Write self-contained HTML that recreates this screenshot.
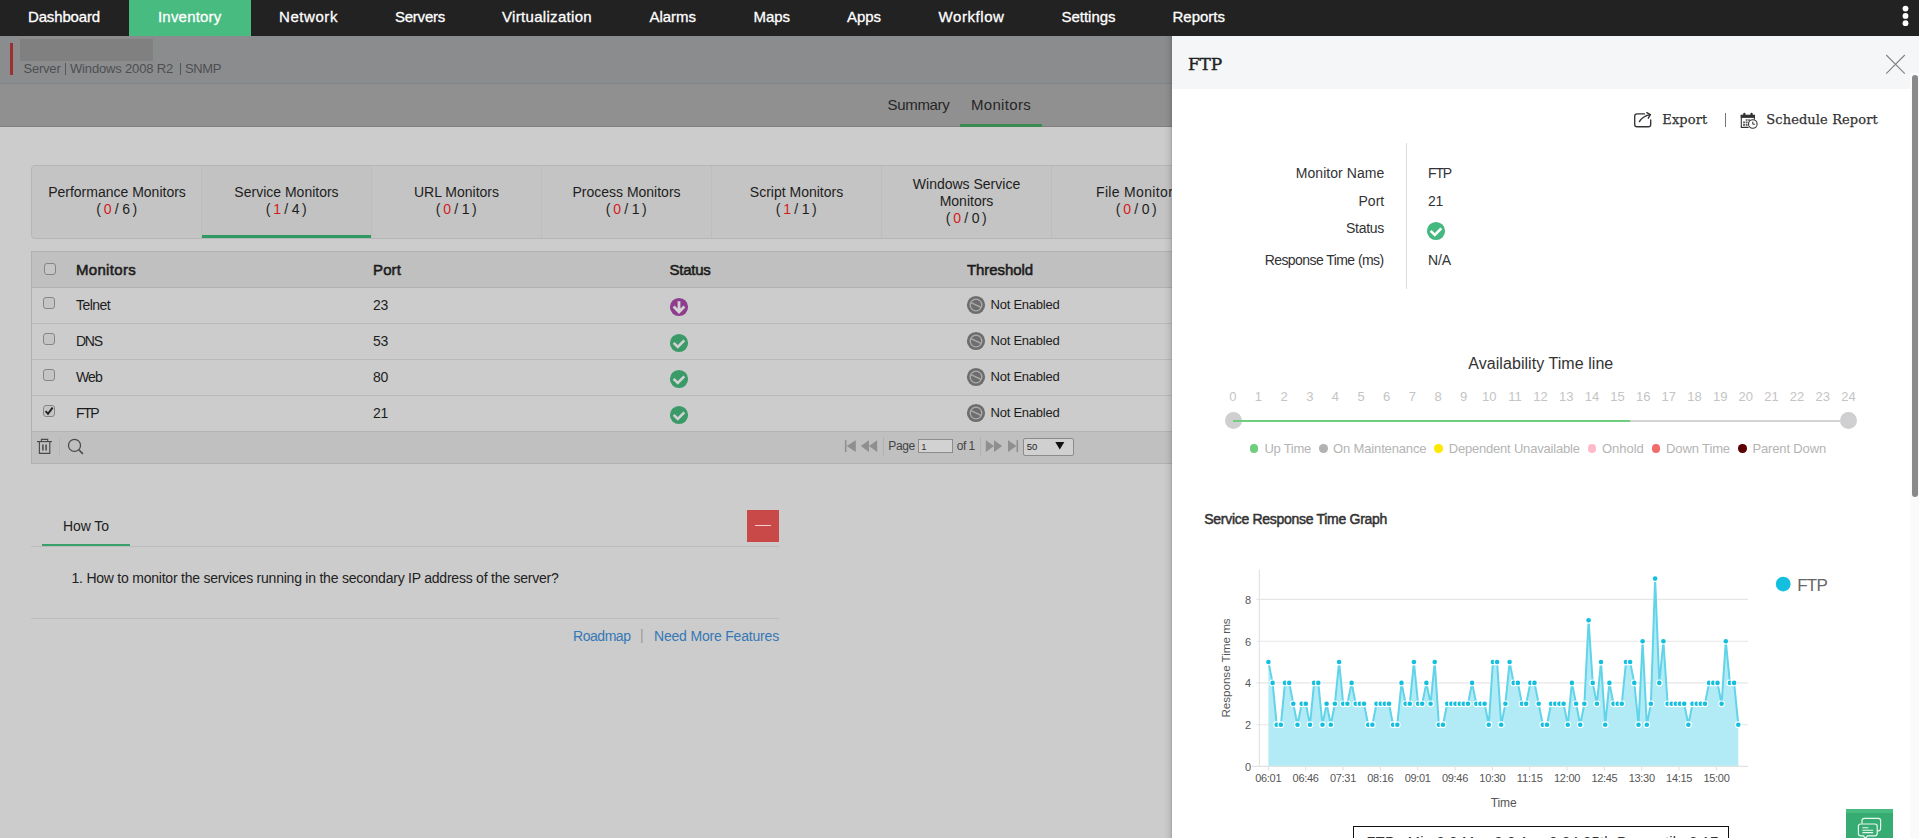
<!DOCTYPE html>
<html lang="en"><head><meta charset="utf-8"><title>OpManager - FTP Service Monitor</title>
<style>
html,body{margin:0;padding:0;}
html{overflow:hidden;width:1919px;height:838px;}
body{width:1919px;height:838px;overflow:hidden;position:relative;background:#cccccc;font-family:'Liberation Sans', sans-serif;}
.a{position:absolute;box-sizing:border-box;}
.t{position:absolute;white-space:pre;}
svg{position:absolute;overflow:visible;}

.cb{position:absolute;box-sizing:border-box;width:12px;height:12px;border:1px solid #858585;border-radius:3px;background:#c5c5c5;}

</style></head><body>
<div class="a" style="left:0px;top:36px;width:1172px;height:48px;background:#8b8c8e;"></div>
<div class="a" style="left:0px;top:83px;width:1172px;height:1px;background:#838485;"></div>
<div class="a" style="left:10px;top:43px;width:3px;height:32px;background:#9c2f30;"></div>
<div class="a" style="left:20px;top:39px;width:133px;height:22px;background:#808080;"></div>
<span class="t" style="top:61px;font-size:13px;line-height:15px;color:#4e4f51;letter-spacing:-0.216px;left:23.50px;">Server</span>
<div class="a" style="left:65px;top:63px;width:1px;height:12px;background:#555658;"></div>
<span class="t" style="top:61px;font-size:13px;line-height:15px;color:#4e4f51;letter-spacing:-0.167px;left:70.00px;">Windows 2008 R2</span>
<div class="a" style="left:180px;top:63px;width:1px;height:12px;background:#555658;"></div>
<span class="t" style="top:61px;font-size:13px;line-height:15px;color:#4e4f51;letter-spacing:-0.391px;left:185.00px;">SNMP</span>
<div class="a" style="left:0px;top:84px;width:1172px;height:43px;background:#909090;border-bottom:1px solid #808080;"></div>
<span class="t" style="top:96px;font-size:15px;line-height:17px;color:#262626;letter-spacing:-0.312px;left:887.50px;">Summary</span>
<span class="t" style="top:96px;font-size:15px;line-height:17px;color:#262626;letter-spacing:0.309px;left:971.00px;">Monitors</span>
<div class="a" style="left:960px;top:124px;width:82px;height:3px;background:#3b8a4f;"></div>
<div class="a" style="left:31px;top:165px;width:1150px;height:74px;background:#c4c4c4;border:1px solid #b6b6b6;border-radius:4px 0 0 4px;"></div>
<div class="a" style="left:202px;top:166px;width:169px;height:72px;background:#c2c2c2;"></div>
<div class="a" style="left:202px;top:235px;width:169px;height:3px;background:#2f9962;"></div>
<div class="a" style="left:201px;top:166px;width:1px;height:72px;background:#bdbdbd;"></div>
<div class="a" style="left:371px;top:166px;width:1px;height:72px;background:#bdbdbd;"></div>
<div class="a" style="left:541px;top:166px;width:1px;height:72px;background:#bdbdbd;"></div>
<div class="a" style="left:711px;top:166px;width:1px;height:72px;background:#bdbdbd;"></div>
<div class="a" style="left:881px;top:166px;width:1px;height:72px;background:#bdbdbd;"></div>
<div class="a" style="left:1051px;top:166px;width:1px;height:72px;background:#bdbdbd;"></div>
<span class="t" style="top:184px;font-size:14px;line-height:16px;color:#1d1d1d;left:117.00px;transform:translateX(-50%);margin-left:0.00px;">Performance Monitors</span>
<span class="t" style="top:201px;font-size:14px;line-height:16px;color:#1d1d1d;left:96.20px;">(</span>
<span class="t" style="top:201px;font-size:14px;line-height:16px;color:#d31b1b;left:103.70px;">0</span>
<span class="t" style="top:201px;font-size:14px;line-height:16px;color:#1d1d1d;left:114.80px;">/</span>
<span class="t" style="top:201px;font-size:14px;line-height:16px;color:#1d1d1d;left:122.30px;">6</span>
<span class="t" style="top:201px;font-size:14px;line-height:16px;color:#1d1d1d;left:132.60px;">)</span>
<span class="t" style="top:184px;font-size:14px;line-height:16px;color:#1d1d1d;left:286.50px;transform:translateX(-50%);margin-left:0.00px;">Service Monitors</span>
<span class="t" style="top:201px;font-size:14px;line-height:16px;color:#1d1d1d;left:265.70px;">(</span>
<span class="t" style="top:201px;font-size:14px;line-height:16px;color:#d31b1b;left:273.20px;">1</span>
<span class="t" style="top:201px;font-size:14px;line-height:16px;color:#1d1d1d;left:284.30px;">/</span>
<span class="t" style="top:201px;font-size:14px;line-height:16px;color:#1d1d1d;left:291.80px;">4</span>
<span class="t" style="top:201px;font-size:14px;line-height:16px;color:#1d1d1d;left:302.10px;">)</span>
<span class="t" style="top:184px;font-size:14px;line-height:16px;color:#1d1d1d;left:456.50px;transform:translateX(-50%);margin-left:0.00px;">URL Monitors</span>
<span class="t" style="top:201px;font-size:14px;line-height:16px;color:#1d1d1d;left:435.70px;">(</span>
<span class="t" style="top:201px;font-size:14px;line-height:16px;color:#d31b1b;left:443.20px;">0</span>
<span class="t" style="top:201px;font-size:14px;line-height:16px;color:#1d1d1d;left:454.30px;">/</span>
<span class="t" style="top:201px;font-size:14px;line-height:16px;color:#1d1d1d;left:461.80px;">1</span>
<span class="t" style="top:201px;font-size:14px;line-height:16px;color:#1d1d1d;left:472.10px;">)</span>
<span class="t" style="top:184px;font-size:14px;line-height:16px;color:#1d1d1d;left:626.50px;transform:translateX(-50%);margin-left:0.00px;">Process Monitors</span>
<span class="t" style="top:201px;font-size:14px;line-height:16px;color:#1d1d1d;left:605.70px;">(</span>
<span class="t" style="top:201px;font-size:14px;line-height:16px;color:#d31b1b;left:613.20px;">0</span>
<span class="t" style="top:201px;font-size:14px;line-height:16px;color:#1d1d1d;left:624.30px;">/</span>
<span class="t" style="top:201px;font-size:14px;line-height:16px;color:#1d1d1d;left:631.80px;">1</span>
<span class="t" style="top:201px;font-size:14px;line-height:16px;color:#1d1d1d;left:642.10px;">)</span>
<span class="t" style="top:184px;font-size:14px;line-height:16px;color:#1d1d1d;left:796.50px;transform:translateX(-50%);margin-left:0.00px;">Script Monitors</span>
<span class="t" style="top:201px;font-size:14px;line-height:16px;color:#1d1d1d;left:775.70px;">(</span>
<span class="t" style="top:201px;font-size:14px;line-height:16px;color:#d31b1b;left:783.20px;">1</span>
<span class="t" style="top:201px;font-size:14px;line-height:16px;color:#1d1d1d;left:794.30px;">/</span>
<span class="t" style="top:201px;font-size:14px;line-height:16px;color:#1d1d1d;left:801.80px;">1</span>
<span class="t" style="top:201px;font-size:14px;line-height:16px;color:#1d1d1d;left:812.10px;">)</span>
<span class="t" style="top:176px;font-size:14px;line-height:16px;color:#1d1d1d;left:966.50px;transform:translateX(-50%);margin-left:0.00px;">Windows Service</span>
<span class="t" style="top:193px;font-size:14px;line-height:16px;color:#1d1d1d;left:966.50px;transform:translateX(-50%);margin-left:0.00px;">Monitors</span>
<span class="t" style="top:210px;font-size:14px;line-height:16px;color:#1d1d1d;left:945.70px;">(</span>
<span class="t" style="top:210px;font-size:14px;line-height:16px;color:#d31b1b;left:953.20px;">0</span>
<span class="t" style="top:210px;font-size:14px;line-height:16px;color:#1d1d1d;left:964.30px;">/</span>
<span class="t" style="top:210px;font-size:14px;line-height:16px;color:#1d1d1d;left:971.80px;">0</span>
<span class="t" style="top:210px;font-size:14px;line-height:16px;color:#1d1d1d;left:982.10px;">)</span>
<span class="t" style="top:184px;font-size:14px;line-height:16px;color:#1d1d1d;letter-spacing:0.335px;left:1096.00px;">File Monitors</span>
<span class="t" style="top:201px;font-size:14px;line-height:16px;color:#1d1d1d;left:1115.70px;">(</span>
<span class="t" style="top:201px;font-size:14px;line-height:16px;color:#d31b1b;left:1123.20px;">0</span>
<span class="t" style="top:201px;font-size:14px;line-height:16px;color:#1d1d1d;left:1134.30px;">/</span>
<span class="t" style="top:201px;font-size:14px;line-height:16px;color:#1d1d1d;left:1141.80px;">0</span>
<span class="t" style="top:201px;font-size:14px;line-height:16px;color:#1d1d1d;left:1152.10px;">)</span>
<div class="a" style="left:31px;top:251px;width:1150px;height:213px;background:#cccccc;border:1px solid #b0b0b0;"></div>
<div class="a" style="left:32px;top:252px;width:1148px;height:36px;background:#c0c0c0;border-bottom:1px solid #b0b0b0;"></div>
<div class="a" style="left:32px;top:323px;width:1148px;height:1px;background:#b9b9b9;"></div>
<div class="a" style="left:32px;top:359px;width:1148px;height:1px;background:#b9b9b9;"></div>
<div class="a" style="left:32px;top:395px;width:1148px;height:1px;background:#b9b9b9;"></div>
<div class="a" style="left:32px;top:431px;width:1148px;height:32px;background:#c0c0c0;border-top:1px solid #b4b4b4;"></div>
<span class="t" style="top:261px;font-size:15px;line-height:17px;color:#1c1c1c;letter-spacing:0.309px;left:76.00px;-webkit-text-stroke:0.55px #1c1c1c;">Monitors</span>
<span class="t" style="top:261px;font-size:15px;line-height:17px;color:#1c1c1c;letter-spacing:0.121px;left:373.00px;-webkit-text-stroke:0.55px #1c1c1c;">Port</span>
<span class="t" style="top:261px;font-size:15px;line-height:17px;color:#1c1c1c;letter-spacing:-0.255px;left:669.50px;-webkit-text-stroke:0.55px #1c1c1c;">Status</span>
<span class="t" style="top:261px;font-size:15px;line-height:17px;color:#1c1c1c;letter-spacing:-0.078px;left:967.00px;-webkit-text-stroke:0.55px #1c1c1c;">Threshold</span>
<div class="cb" style="left:44px;top:263px"></div>
<span class="t" style="top:297px;font-size:14px;line-height:16px;color:#1d1d1d;letter-spacing:-0.560px;left:76.00px;">Telnet</span>
<span class="t" style="top:297px;font-size:14px;line-height:16px;color:#1d1d1d;letter-spacing:-0.389px;left:373.00px;">23</span>
<span class="t" style="top:297px;font-size:13px;line-height:15px;color:#1d1d1d;letter-spacing:-0.233px;left:990.50px;">Not Enabled</span>
<div class="cb" style="left:43px;top:297px"></div>
<span class="t" style="top:333px;font-size:14px;line-height:16px;color:#1d1d1d;letter-spacing:-1.254px;left:76.00px;">DNS</span>
<span class="t" style="top:333px;font-size:14px;line-height:16px;color:#1d1d1d;letter-spacing:-0.389px;left:373.00px;">53</span>
<span class="t" style="top:333px;font-size:13px;line-height:15px;color:#1d1d1d;letter-spacing:-0.233px;left:990.50px;">Not Enabled</span>
<div class="cb" style="left:43px;top:333px"></div>
<span class="t" style="top:369px;font-size:14px;line-height:16px;color:#1d1d1d;letter-spacing:-0.849px;left:76.00px;">Web</span>
<span class="t" style="top:369px;font-size:14px;line-height:16px;color:#1d1d1d;letter-spacing:-0.389px;left:373.00px;">80</span>
<span class="t" style="top:369px;font-size:13px;line-height:15px;color:#1d1d1d;letter-spacing:-0.233px;left:990.50px;">Not Enabled</span>
<div class="cb" style="left:43px;top:369px"></div>
<span class="t" style="top:405px;font-size:14px;line-height:16px;color:#1d1d1d;letter-spacing:-1.384px;left:76.00px;">FTP</span>
<span class="t" style="top:405px;font-size:14px;line-height:16px;color:#1d1d1d;letter-spacing:-0.389px;left:373.00px;">21</span>
<span class="t" style="top:405px;font-size:13px;line-height:15px;color:#1d1d1d;letter-spacing:-0.233px;left:990.50px;">Not Enabled</span>
<div class="cb" style="left:43px;top:405px"></div>
<span class="t" style="top:518px;font-size:14px;line-height:16px;color:#222;letter-spacing:-0.073px;left:63.00px;">How To</span>
<div class="a" style="left:42px;top:544px;width:88px;height:2px;background:#3a9f6b;"></div>
<div class="a" style="left:31px;top:546px;width:748px;height:1px;background:#bcbcbc;"></div>
<div class="a" style="left:747px;top:510px;width:32px;height:32px;background:#c94848;"></div>
<div class="a" style="left:755px;top:525px;width:16px;height:1px;background:#f0d0d0;"></div>
<span class="t" style="top:570px;font-size:14px;line-height:16px;color:#222;letter-spacing:-0.229px;left:71.50px;">1. How to monitor the services running in the secondary IP address of the server?</span>
<div class="a" style="left:31px;top:618px;width:748px;height:1px;background:#bcbcbc;"></div>
<span class="t" style="top:628px;font-size:14px;line-height:16px;color:#3578b5;letter-spacing:-0.458px;left:573.00px;">Roadmap</span>
<span class="t" style="top:627px;font-size:14px;line-height:16px;color:#999;left:640.00px;">|</span>
<span class="t" style="top:628px;font-size:14px;line-height:16px;color:#3578b5;letter-spacing:-0.189px;left:654.00px;">Need More Features</span>
<div class="a" style="left:0px;top:0px;width:1919px;height:36px;background:#222222;"></div>
<div class="a" style="left:129px;top:0px;width:122px;height:36px;background:#48bb81;"></div>
<span class="t" style="top:8px;font-size:15px;line-height:17px;color:#ffffff;letter-spacing:-0.155px;left:28.00px;-webkit-text-stroke:0.3px #fff;">Dashboard</span>
<span class="t" style="top:8px;font-size:15px;line-height:17px;color:#ffffff;letter-spacing:0.200px;left:158.00px;-webkit-text-stroke:0.3px #fff;">Inventory</span>
<span class="t" style="top:8px;font-size:15px;line-height:17px;color:#ffffff;letter-spacing:0.569px;left:279.00px;-webkit-text-stroke:0.3px #fff;">Network</span>
<span class="t" style="top:8px;font-size:15px;line-height:17px;color:#ffffff;letter-spacing:-0.241px;left:395.00px;-webkit-text-stroke:0.3px #fff;">Servers</span>
<span class="t" style="top:8px;font-size:15px;line-height:17px;color:#ffffff;letter-spacing:0.314px;left:502.00px;-webkit-text-stroke:0.3px #fff;">Virtualization</span>
<span class="t" style="top:8px;font-size:15px;line-height:17px;color:#ffffff;letter-spacing:-0.029px;left:649.50px;-webkit-text-stroke:0.3px #fff;">Alarms</span>
<span class="t" style="top:8px;font-size:15px;line-height:17px;color:#ffffff;letter-spacing:-0.047px;left:753.50px;-webkit-text-stroke:0.3px #fff;">Maps</span>
<span class="t" style="top:8px;font-size:15px;line-height:17px;color:#ffffff;letter-spacing:-0.051px;left:847.00px;-webkit-text-stroke:0.3px #fff;">Apps</span>
<span class="t" style="top:8px;font-size:15px;line-height:17px;color:#ffffff;letter-spacing:0.574px;left:938.50px;-webkit-text-stroke:0.3px #fff;">Workflow</span>
<span class="t" style="top:8px;font-size:15px;line-height:17px;color:#ffffff;letter-spacing:-0.025px;left:1061.50px;-webkit-text-stroke:0.3px #fff;">Settings</span>
<span class="t" style="top:8px;font-size:15px;line-height:17px;color:#ffffff;letter-spacing:-0.004px;left:1172.50px;-webkit-text-stroke:0.3px #fff;">Reports</span>
<svg style="left:1900px;top:4px" width="12" height="24" viewBox="0 0 12 24"><circle cx="5.5" cy="4.6" r="2.9" fill="#fff"/><circle cx="5.5" cy="11.9" r="2.9" fill="#fff"/><circle cx="5.5" cy="19.2" r="2.9" fill="#fff"/></svg>
<div class="a" style="left:1163px;top:36px;width:9px;height:802px;background:linear-gradient(to right,rgba(0,0,0,0),rgba(0,0,0,0.025) 40%,rgba(0,0,0,0.08) 75%,rgba(0,0,0,0.175));"></div>
<div class="a" style="left:1172px;top:36px;width:747px;height:802px;background:#ffffff;"></div>
<div class="a" style="left:1172px;top:36px;width:747px;height:53px;background:#f5f6f8;"></div>
<span class="t" style="top:54px;font-size:17px;line-height:20px;color:#222;font-family:'DejaVu Serif', 'Liberation Serif', serif;letter-spacing:-0.193px;left:1188.00px;-webkit-text-stroke:0.4px #222;">FTP</span>
<svg style="left:669px;top:296.8px" width="20" height="20" viewBox="0 0 20 20"><circle cx="10" cy="10" r="9.1" fill="#8e3d8e"/><path d="M10 4.2 V13.5 M4.6 9.5 L10 14.9 L15.4 9.5" fill="none" stroke="#d2d2d2" stroke-width="2.8"/></svg>
<svg style="left:966px;top:295px" width="20" height="20" viewBox="0 0 20 20"><circle cx="10" cy="10" r="9.1" fill="#6d6d6d"/><circle cx="10" cy="10" r="5.8" fill="none" stroke="#adadad" stroke-width="1.3"/><path d="M5 7.6 L15 12.4" stroke="#adadad" stroke-width="1.3"/></svg>
<svg style="left:669px;top:332.8px" width="20" height="20" viewBox="0 0 20 20"><circle cx="10" cy="10" r="9.1" fill="#3a9a68"/><path d="M4.6 9.9 L8.8 14 L15.3 7.3" fill="none" stroke="#d2d2d2" stroke-width="2.6"/></svg>
<svg style="left:966px;top:331px" width="20" height="20" viewBox="0 0 20 20"><circle cx="10" cy="10" r="9.1" fill="#6d6d6d"/><circle cx="10" cy="10" r="5.8" fill="none" stroke="#adadad" stroke-width="1.3"/><path d="M5 7.6 L15 12.4" stroke="#adadad" stroke-width="1.3"/></svg>
<svg style="left:669px;top:368.8px" width="20" height="20" viewBox="0 0 20 20"><circle cx="10" cy="10" r="9.1" fill="#3a9a68"/><path d="M4.6 9.9 L8.8 14 L15.3 7.3" fill="none" stroke="#d2d2d2" stroke-width="2.6"/></svg>
<svg style="left:966px;top:367px" width="20" height="20" viewBox="0 0 20 20"><circle cx="10" cy="10" r="9.1" fill="#6d6d6d"/><circle cx="10" cy="10" r="5.8" fill="none" stroke="#adadad" stroke-width="1.3"/><path d="M5 7.6 L15 12.4" stroke="#adadad" stroke-width="1.3"/></svg>
<svg style="left:669px;top:404.8px" width="20" height="20" viewBox="0 0 20 20"><circle cx="10" cy="10" r="9.1" fill="#3a9a68"/><path d="M4.6 9.9 L8.8 14 L15.3 7.3" fill="none" stroke="#d2d2d2" stroke-width="2.6"/></svg>
<svg style="left:966px;top:403px" width="20" height="20" viewBox="0 0 20 20"><circle cx="10" cy="10" r="9.1" fill="#6d6d6d"/><circle cx="10" cy="10" r="5.8" fill="none" stroke="#adadad" stroke-width="1.3"/><path d="M5 7.6 L15 12.4" stroke="#adadad" stroke-width="1.3"/></svg>
<svg style="left:43px;top:405px" width="12" height="12" viewBox="0 0 12 12"><path d="M2.6 6.2 L5 8.8 L9.6 2.6" fill="none" stroke="#222" stroke-width="1.9"/></svg>
<svg style="left:34px;top:436px" width="22" height="20" viewBox="0 0 22 20"><g fill="none" stroke="#4a4a4a" stroke-width="1.15"><path d="M3 5.6 H18"/><path d="M7.4 5.4 V3.4 H13.7 V5.4"/><path d="M5.4 5.8 V17.4 H15.8 V5.8"/><path d="M8.9 8.4 V14.6 M12.1 8.4 V14.6" stroke-width="1.5"/></g></svg>
<div class="a" style="left:59px;top:437px;width:1px;height:19px;background:#b6b6b6;"></div>
<svg style="left:64px;top:436px" width="22" height="20" viewBox="0 0 22 20"><g fill="none" stroke="#4a4a4a" stroke-width="1.25"><circle cx="10.5" cy="9.4" r="6.0"/><path d="M14.8 13.8 L18.9 17.9" stroke-width="1.6"/></g></svg>
<svg style="left:844px;top:439px" width="14" height="14" viewBox="0 0 14 14"><rect x="0.9" y="1.2" width="1.6" height="11.8" fill="#8f8f8f"/><path d="M2.7 7.1 L11.8 1.2 V13 Z" fill="#8f8f8f"/></svg>
<svg style="left:860px;top:439px" width="18" height="14" viewBox="0 0 18 14"><path d="M0.8 7.1 L9 1.2 V13 Z M9 7.1 L17.2 1.2 V13 Z" fill="#8f8f8f"/></svg>
<div class="a" style="left:882.5px;top:437px;width:1px;height:19px;background:#b2b2b2;"></div>
<span class="t" style="top:439px;font-size:12px;line-height:14px;color:#444;letter-spacing:-0.383px;left:888.30px;">Page</span>
<div class="a" style="left:918px;top:439px;width:35px;height:14px;background:#d2d2d2;border:1px solid #8c8c8c;"></div>
<span class="t" style="top:441px;font-size:9.5px;line-height:11px;color:#333;left:921.30px;">1</span>
<span class="t" style="top:439px;font-size:12px;line-height:14px;color:#444;letter-spacing:-0.554px;left:956.80px;">of 1</span>
<div class="a" style="left:979.5px;top:437px;width:1px;height:19px;background:#b2b2b2;"></div>
<svg style="left:985px;top:439px" width="18" height="14" viewBox="0 0 18 14"><path d="M0.8 1.2 L9 7.1 L0.8 13 Z M9 1.2 L17.2 7.1 L9 13 Z" fill="#8f8f8f"/></svg>
<svg style="left:1007px;top:439px" width="14" height="14" viewBox="0 0 14 14"><path d="M1 1.2 L9.5 7.1 L1 13 Z" fill="#8f8f8f"/><rect x="9.5" y="1.2" width="1.6" height="11.8" fill="#8f8f8f"/></svg>
<div class="a" style="left:1022.5px;top:437.5px;width:51px;height:18px;background:#d0d0d0;border:1px solid #8c8c8c;border-radius:2px;"></div>
<span class="t" style="top:441px;font-size:9.5px;line-height:11px;color:#222;left:1026.80px;">50</span>
<svg style="left:1055px;top:441px" width="10" height="9" viewBox="0 0 10 9"><path d="M0.3 1 H9.3 L4.8 8.6 Z" fill="#111"/></svg>
<div class="a" style="left:1910px;top:73px;width:9px;height:765px;background:#fafafa;"></div>
<div class="a" style="left:1912px;top:75px;width:6px;height:422px;background:#898989;border-radius:3px;"></div>
<svg style="left:1885px;top:54px" width="21" height="21" viewBox="0 0 21 21"><path d="M1.2 1 L19.8 19.6 M19.8 1 L1.2 19.6" stroke="#808080" stroke-width="1.1" fill="none"/></svg>
<svg style="left:1632px;top:110px" width="22" height="20" viewBox="0 0 22 20"><g fill="none" stroke="#333" stroke-width="1.35" stroke-linecap="round" stroke-linejoin="round"><path d="M12.5 3.9 H5 Q2.7 3.9 2.7 6.2 V14.4 Q2.7 16.7 5 16.7 H16.4 Q18.7 16.7 18.7 14.4 V9.8"/><path d="M7.4 11.6 Q10.5 6.2 18 4.6"/><path d="M14.8 2.6 L18.4 4.6 L16.3 8.2"/></g></svg>
<span class="t" style="top:112px;font-size:13px;line-height:15px;color:#333;font-family:'DejaVu Serif', 'Liberation Serif', serif;letter-spacing:0.096px;left:1662.30px;-webkit-text-stroke:0.25px #333;">Export</span>
<div class="a" style="left:1725px;top:113px;width:1px;height:14px;background:#777;"></div>
<svg style="left:1739px;top:111px" width="22" height="20" viewBox="0 0 22 20"><g fill="none" stroke="#333" stroke-width="1.1"><path d="M2.3 4 V16.4 H9.6"/><path d="M15.4 4 V8.6"/></g>
<rect x="1.75" y="3.7" width="14.2" height="3.2" fill="#333"/>
<rect x="4.2" y="1.7" width="2.3" height="3" rx="1.1" fill="#333"/><rect x="11.4" y="1.7" width="2.3" height="3" rx="1.1" fill="#333"/>
<g fill="#555"><rect x="4.1" y="10.5" width="1.8" height="1.8"/><rect x="6.7" y="10.5" width="1.8" height="1.8"/><rect x="4.1" y="13" width="1.8" height="1.8"/><rect x="6.7" y="13" width="1.8" height="1.8"/><rect x="6.7" y="8.2" width="1.8" height="1.6"/><rect x="9.2" y="8.2" width="1.6" height="1.6"/></g>
<circle cx="13.8" cy="13" r="4.3" fill="#fff" stroke="#333" stroke-width="1.1"/><path d="M13.8 10.6 V13.2 H15.9" fill="none" stroke="#333" stroke-width="1"/></svg>
<span class="t" style="top:112px;font-size:13px;line-height:15px;color:#333;font-family:'DejaVu Serif', 'Liberation Serif', serif;letter-spacing:0.100px;left:1766.30px;-webkit-text-stroke:0.25px #333;">Schedule Report</span>
<div class="a" style="left:1406px;top:143px;width:1px;height:146px;background:#dcdcdc;"></div>
<span class="t" style="top:165px;font-size:14px;line-height:16px;color:#333;letter-spacing:0.040px;right:534.76px;">Monitor Name</span>
<span class="t" style="top:193px;font-size:14px;line-height:16px;color:#333;letter-spacing:0.003px;right:534.80px;">Port</span>
<span class="t" style="top:220px;font-size:14px;line-height:16px;color:#333;letter-spacing:-0.317px;right:535.12px;">Status</span>
<span class="t" style="top:252px;font-size:14px;line-height:16px;color:#333;letter-spacing:-0.564px;right:535.36px;">Response Time (ms)</span>
<span class="t" style="top:165px;font-size:14px;line-height:16px;color:#333;letter-spacing:-1.151px;left:1428.00px;">FTP</span>
<span class="t" style="top:193px;font-size:14px;line-height:16px;color:#333;letter-spacing:-0.389px;left:1428.00px;">21</span>
<span class="t" style="top:252px;font-size:14px;line-height:16px;color:#333;letter-spacing:-0.115px;left:1428.00px;">N/A</span>
<svg style="left:1426.3px;top:220.7px" width="20" height="20" viewBox="0 0 20 20"><circle cx="10" cy="10" r="9.1" fill="#44b87f"/><path d="M4.6 9.9 L8.8 14 L15.3 7.3" fill="none" stroke="#ffffff" stroke-width="2.6"/></svg>
<span class="t" style="top:355px;font-size:16px;line-height:17px;color:#333;letter-spacing:0.056px;left:1540.80px;transform:translateX(-50%);margin-left:0.03px;">Availability Time line</span>
<span class="t" style="top:389px;font-size:13px;line-height:15px;color:#c4c4c4;left:1232.80px;transform:translateX(-50%);margin-left:0.00px;">0</span>
<span class="t" style="top:389px;font-size:13px;line-height:15px;color:#c4c4c4;left:1258.45px;transform:translateX(-50%);margin-left:0.00px;">1</span>
<span class="t" style="top:389px;font-size:13px;line-height:15px;color:#c4c4c4;left:1284.10px;transform:translateX(-50%);margin-left:0.00px;">2</span>
<span class="t" style="top:389px;font-size:13px;line-height:15px;color:#c4c4c4;left:1309.75px;transform:translateX(-50%);margin-left:0.00px;">3</span>
<span class="t" style="top:389px;font-size:13px;line-height:15px;color:#c4c4c4;left:1335.40px;transform:translateX(-50%);margin-left:0.00px;">4</span>
<span class="t" style="top:389px;font-size:13px;line-height:15px;color:#c4c4c4;left:1361.05px;transform:translateX(-50%);margin-left:0.00px;">5</span>
<span class="t" style="top:389px;font-size:13px;line-height:15px;color:#c4c4c4;left:1386.70px;transform:translateX(-50%);margin-left:0.00px;">6</span>
<span class="t" style="top:389px;font-size:13px;line-height:15px;color:#c4c4c4;left:1412.35px;transform:translateX(-50%);margin-left:0.00px;">7</span>
<span class="t" style="top:389px;font-size:13px;line-height:15px;color:#c4c4c4;left:1438.00px;transform:translateX(-50%);margin-left:0.00px;">8</span>
<span class="t" style="top:389px;font-size:13px;line-height:15px;color:#c4c4c4;left:1463.65px;transform:translateX(-50%);margin-left:0.00px;">9</span>
<span class="t" style="top:389px;font-size:13px;line-height:15px;color:#c4c4c4;left:1489.30px;transform:translateX(-50%);margin-left:0.00px;">10</span>
<span class="t" style="top:389px;font-size:13px;line-height:15px;color:#c4c4c4;left:1514.95px;transform:translateX(-50%);margin-left:0.00px;">11</span>
<span class="t" style="top:389px;font-size:13px;line-height:15px;color:#c4c4c4;left:1540.60px;transform:translateX(-50%);margin-left:0.00px;">12</span>
<span class="t" style="top:389px;font-size:13px;line-height:15px;color:#c4c4c4;left:1566.25px;transform:translateX(-50%);margin-left:0.00px;">13</span>
<span class="t" style="top:389px;font-size:13px;line-height:15px;color:#c4c4c4;left:1591.90px;transform:translateX(-50%);margin-left:0.00px;">14</span>
<span class="t" style="top:389px;font-size:13px;line-height:15px;color:#c4c4c4;left:1617.55px;transform:translateX(-50%);margin-left:0.00px;">15</span>
<span class="t" style="top:389px;font-size:13px;line-height:15px;color:#c4c4c4;left:1643.20px;transform:translateX(-50%);margin-left:0.00px;">16</span>
<span class="t" style="top:389px;font-size:13px;line-height:15px;color:#c4c4c4;left:1668.85px;transform:translateX(-50%);margin-left:0.00px;">17</span>
<span class="t" style="top:389px;font-size:13px;line-height:15px;color:#c4c4c4;left:1694.50px;transform:translateX(-50%);margin-left:0.00px;">18</span>
<span class="t" style="top:389px;font-size:13px;line-height:15px;color:#c4c4c4;left:1720.15px;transform:translateX(-50%);margin-left:0.00px;">19</span>
<span class="t" style="top:389px;font-size:13px;line-height:15px;color:#c4c4c4;left:1745.80px;transform:translateX(-50%);margin-left:0.00px;">20</span>
<span class="t" style="top:389px;font-size:13px;line-height:15px;color:#c4c4c4;left:1771.45px;transform:translateX(-50%);margin-left:0.00px;">21</span>
<span class="t" style="top:389px;font-size:13px;line-height:15px;color:#c4c4c4;left:1797.10px;transform:translateX(-50%);margin-left:0.00px;">22</span>
<span class="t" style="top:389px;font-size:13px;line-height:15px;color:#c4c4c4;left:1822.75px;transform:translateX(-50%);margin-left:0.00px;">23</span>
<span class="t" style="top:389px;font-size:13px;line-height:15px;color:#c4c4c4;left:1848.40px;transform:translateX(-50%);margin-left:0.00px;">24</span>
<div class="a" style="left:1224.6px;top:412.2px;width:17px;height:17px;background:#cfcfd1;border-radius:50%;"></div>
<div class="a" style="left:1839.9px;top:412.2px;width:17px;height:17px;background:#cfcfd1;border-radius:50%;"></div>
<div class="a" style="left:1232.8px;top:419.7px;width:608px;height:2px;background:#d4d4d4;"></div>
<div class="a" style="left:1232.8px;top:419.7px;width:397px;height:2px;background:#6fce7e;"></div>
<div class="a" style="left:1250.1px;top:444.2px;width:8.4px;height:8.4px;background:#6fce7e;border-radius:50%;"></div>
<span class="t" style="top:441px;font-size:13px;line-height:15px;color:#b4b4b4;letter-spacing:-0.272px;left:1264.50px;">Up Time</span>
<div class="a" style="left:1319.2px;top:444.2px;width:8.4px;height:8.4px;background:#b2b2b2;border-radius:50%;"></div>
<span class="t" style="top:441px;font-size:13px;line-height:15px;color:#b4b4b4;letter-spacing:-0.143px;left:1333.00px;">On Maintenance</span>
<div class="a" style="left:1434.3px;top:444.2px;width:8.4px;height:8.4px;background:#ffe800;border-radius:50%;"></div>
<span class="t" style="top:441px;font-size:13px;line-height:15px;color:#b4b4b4;letter-spacing:-0.198px;left:1448.70px;">Dependent Unavailable</span>
<div class="a" style="left:1587.8px;top:444.2px;width:8.4px;height:8.4px;background:#ffb9ca;border-radius:50%;"></div>
<span class="t" style="top:441px;font-size:13px;line-height:15px;color:#b4b4b4;letter-spacing:-0.020px;left:1602.00px;">Onhold</span>
<div class="a" style="left:1652.1px;top:444.2px;width:8.4px;height:8.4px;background:#f26b6b;border-radius:50%;"></div>
<span class="t" style="top:441px;font-size:13px;line-height:15px;color:#b4b4b4;letter-spacing:-0.115px;left:1666.00px;">Down Time</span>
<div class="a" style="left:1738.3999999999999px;top:444.2px;width:8.4px;height:8.4px;background:#5a0000;border-radius:50%;"></div>
<span class="t" style="top:441px;font-size:13px;line-height:15px;color:#b4b4b4;letter-spacing:-0.141px;left:1752.40px;">Parent Down</span>
<span class="t" style="top:511px;font-size:14px;line-height:16px;color:#333;letter-spacing:-0.294px;left:1204.30px;-webkit-text-stroke:0.5px #333;">Service Response Time Graph</span>
<svg style="left:0;top:0" width="1919" height="838" viewBox="0 0 1919 838"><path d="M1256.5 724.7 H1748" stroke="#e6e6e6" stroke-width="1.1" fill="none"/><path d="M1256.5 682.9 H1748" stroke="#e6e6e6" stroke-width="1.1" fill="none"/><path d="M1256.5 641.2 H1748" stroke="#e6e6e6" stroke-width="1.1" fill="none"/><path d="M1256.5 599.4 H1748" stroke="#e6e6e6" stroke-width="1.1" fill="none"/><path d="M1259.4 569.5 V766.4" stroke="#e2e2e2" stroke-width="1.1" fill="none"/><polygon points="1268.4,766.4 1268.4,662.0 1272.6,682.9 1276.7,724.7 1280.9,724.7 1285.0,682.9 1289.2,682.9 1293.3,703.8 1297.5,724.7 1301.7,703.8 1305.8,703.8 1310.0,724.7 1314.1,682.9 1318.3,682.9 1322.5,724.7 1326.6,703.8 1330.8,724.7 1334.9,703.8 1339.1,662.0 1343.2,703.8 1347.4,703.8 1351.6,682.9 1355.7,703.8 1359.9,703.8 1364.0,703.8 1368.2,724.7 1372.4,724.7 1376.5,703.8 1380.7,703.8 1384.8,703.8 1389.0,703.8 1393.1,724.7 1397.3,724.7 1401.5,682.9 1405.6,703.8 1409.8,703.8 1413.9,662.0 1418.1,703.8 1422.2,703.8 1426.4,682.9 1430.6,703.8 1434.7,662.0 1438.9,724.7 1443.0,724.7 1447.2,703.8 1451.4,703.8 1455.5,703.8 1459.7,703.8 1463.8,703.8 1468.0,703.8 1472.1,682.9 1476.3,703.8 1480.5,703.8 1484.6,703.8 1488.8,724.7 1492.9,662.0 1497.1,662.0 1501.2,724.7 1505.4,703.8 1509.6,662.0 1513.7,682.9 1517.9,682.9 1522.0,703.8 1526.2,703.8 1530.4,682.9 1534.5,682.9 1538.7,703.8 1542.8,724.7 1547.0,724.7 1551.1,703.8 1555.3,703.8 1559.5,703.8 1563.6,703.8 1567.8,724.7 1571.9,682.9 1576.1,703.8 1580.2,724.7 1584.4,703.8 1588.6,620.3 1592.7,682.9 1596.9,703.8 1601.0,662.0 1605.2,724.7 1609.4,682.9 1613.5,703.8 1617.7,703.8 1621.8,703.8 1626.0,662.0 1630.1,662.0 1634.3,682.9 1638.5,724.7 1642.6,641.2 1646.8,724.7 1650.9,703.8 1655.1,578.6 1659.3,682.9 1663.4,641.2 1667.6,703.8 1671.7,703.8 1675.9,703.8 1680.0,703.8 1684.2,703.8 1688.4,724.7 1692.5,703.8 1696.7,703.8 1700.8,703.8 1705.0,703.8 1709.1,682.9 1713.3,682.9 1717.5,682.9 1721.6,703.8 1725.8,641.2 1729.9,682.9 1734.1,682.9 1738.3,724.7 1738.3,766.4" fill="#b2ebf6"/><path d="M1252 766.4 H1748" stroke="#e2e2e2" stroke-width="1.1" fill="none"/><polyline points="1268.4,662.0 1272.6,682.9 1276.7,724.7 1280.9,724.7 1285.0,682.9 1289.2,682.9 1293.3,703.8 1297.5,724.7 1301.7,703.8 1305.8,703.8 1310.0,724.7 1314.1,682.9 1318.3,682.9 1322.5,724.7 1326.6,703.8 1330.8,724.7 1334.9,703.8 1339.1,662.0 1343.2,703.8 1347.4,703.8 1351.6,682.9 1355.7,703.8 1359.9,703.8 1364.0,703.8 1368.2,724.7 1372.4,724.7 1376.5,703.8 1380.7,703.8 1384.8,703.8 1389.0,703.8 1393.1,724.7 1397.3,724.7 1401.5,682.9 1405.6,703.8 1409.8,703.8 1413.9,662.0 1418.1,703.8 1422.2,703.8 1426.4,682.9 1430.6,703.8 1434.7,662.0 1438.9,724.7 1443.0,724.7 1447.2,703.8 1451.4,703.8 1455.5,703.8 1459.7,703.8 1463.8,703.8 1468.0,703.8 1472.1,682.9 1476.3,703.8 1480.5,703.8 1484.6,703.8 1488.8,724.7 1492.9,662.0 1497.1,662.0 1501.2,724.7 1505.4,703.8 1509.6,662.0 1513.7,682.9 1517.9,682.9 1522.0,703.8 1526.2,703.8 1530.4,682.9 1534.5,682.9 1538.7,703.8 1542.8,724.7 1547.0,724.7 1551.1,703.8 1555.3,703.8 1559.5,703.8 1563.6,703.8 1567.8,724.7 1571.9,682.9 1576.1,703.8 1580.2,724.7 1584.4,703.8 1588.6,620.3 1592.7,682.9 1596.9,703.8 1601.0,662.0 1605.2,724.7 1609.4,682.9 1613.5,703.8 1617.7,703.8 1621.8,703.8 1626.0,662.0 1630.1,662.0 1634.3,682.9 1638.5,724.7 1642.6,641.2 1646.8,724.7 1650.9,703.8 1655.1,578.6 1659.3,682.9 1663.4,641.2 1667.6,703.8 1671.7,703.8 1675.9,703.8 1680.0,703.8 1684.2,703.8 1688.4,724.7 1692.5,703.8 1696.7,703.8 1700.8,703.8 1705.0,703.8 1709.1,682.9 1713.3,682.9 1717.5,682.9 1721.6,703.8 1725.8,641.2 1729.9,682.9 1734.1,682.9 1738.3,724.7" fill="none" stroke="#62d4e9" stroke-width="2" stroke-linejoin="round"/><path d="M1268.4 766.4 v4" stroke="#e2e2e2" stroke-width="1.1"/><path d="M1305.7 766.4 v4" stroke="#e2e2e2" stroke-width="1.1"/><path d="M1343.1 766.4 v4" stroke="#e2e2e2" stroke-width="1.1"/><path d="M1380.4 766.4 v4" stroke="#e2e2e2" stroke-width="1.1"/><path d="M1417.7 766.4 v4" stroke="#e2e2e2" stroke-width="1.1"/><path d="M1455.1 766.4 v4" stroke="#e2e2e2" stroke-width="1.1"/><path d="M1492.4 766.4 v4" stroke="#e2e2e2" stroke-width="1.1"/><path d="M1529.7 766.4 v4" stroke="#e2e2e2" stroke-width="1.1"/><path d="M1567.0 766.4 v4" stroke="#e2e2e2" stroke-width="1.1"/><path d="M1604.4 766.4 v4" stroke="#e2e2e2" stroke-width="1.1"/><path d="M1641.7 766.4 v4" stroke="#e2e2e2" stroke-width="1.1"/><path d="M1679.0 766.4 v4" stroke="#e2e2e2" stroke-width="1.1"/><path d="M1716.4 766.4 v4" stroke="#e2e2e2" stroke-width="1.1"/><circle cx="1268.4" cy="662.0" r="3.4" fill="#fff"/><circle cx="1268.4" cy="662.0" r="2.3" fill="#12bfdf"/><circle cx="1272.6" cy="682.9" r="3.4" fill="#fff"/><circle cx="1272.6" cy="682.9" r="2.3" fill="#12bfdf"/><circle cx="1276.7" cy="724.7" r="3.4" fill="#fff"/><circle cx="1276.7" cy="724.7" r="2.3" fill="#12bfdf"/><circle cx="1280.9" cy="724.7" r="3.4" fill="#fff"/><circle cx="1280.9" cy="724.7" r="2.3" fill="#12bfdf"/><circle cx="1285.0" cy="682.9" r="3.4" fill="#fff"/><circle cx="1285.0" cy="682.9" r="2.3" fill="#12bfdf"/><circle cx="1289.2" cy="682.9" r="3.4" fill="#fff"/><circle cx="1289.2" cy="682.9" r="2.3" fill="#12bfdf"/><circle cx="1293.3" cy="703.8" r="3.4" fill="#fff"/><circle cx="1293.3" cy="703.8" r="2.3" fill="#12bfdf"/><circle cx="1297.5" cy="724.7" r="3.4" fill="#fff"/><circle cx="1297.5" cy="724.7" r="2.3" fill="#12bfdf"/><circle cx="1301.7" cy="703.8" r="3.4" fill="#fff"/><circle cx="1301.7" cy="703.8" r="2.3" fill="#12bfdf"/><circle cx="1305.8" cy="703.8" r="3.4" fill="#fff"/><circle cx="1305.8" cy="703.8" r="2.3" fill="#12bfdf"/><circle cx="1310.0" cy="724.7" r="3.4" fill="#fff"/><circle cx="1310.0" cy="724.7" r="2.3" fill="#12bfdf"/><circle cx="1314.1" cy="682.9" r="3.4" fill="#fff"/><circle cx="1314.1" cy="682.9" r="2.3" fill="#12bfdf"/><circle cx="1318.3" cy="682.9" r="3.4" fill="#fff"/><circle cx="1318.3" cy="682.9" r="2.3" fill="#12bfdf"/><circle cx="1322.5" cy="724.7" r="3.4" fill="#fff"/><circle cx="1322.5" cy="724.7" r="2.3" fill="#12bfdf"/><circle cx="1326.6" cy="703.8" r="3.4" fill="#fff"/><circle cx="1326.6" cy="703.8" r="2.3" fill="#12bfdf"/><circle cx="1330.8" cy="724.7" r="3.4" fill="#fff"/><circle cx="1330.8" cy="724.7" r="2.3" fill="#12bfdf"/><circle cx="1334.9" cy="703.8" r="3.4" fill="#fff"/><circle cx="1334.9" cy="703.8" r="2.3" fill="#12bfdf"/><circle cx="1339.1" cy="662.0" r="3.4" fill="#fff"/><circle cx="1339.1" cy="662.0" r="2.3" fill="#12bfdf"/><circle cx="1343.2" cy="703.8" r="3.4" fill="#fff"/><circle cx="1343.2" cy="703.8" r="2.3" fill="#12bfdf"/><circle cx="1347.4" cy="703.8" r="3.4" fill="#fff"/><circle cx="1347.4" cy="703.8" r="2.3" fill="#12bfdf"/><circle cx="1351.6" cy="682.9" r="3.4" fill="#fff"/><circle cx="1351.6" cy="682.9" r="2.3" fill="#12bfdf"/><circle cx="1355.7" cy="703.8" r="3.4" fill="#fff"/><circle cx="1355.7" cy="703.8" r="2.3" fill="#12bfdf"/><circle cx="1359.9" cy="703.8" r="3.4" fill="#fff"/><circle cx="1359.9" cy="703.8" r="2.3" fill="#12bfdf"/><circle cx="1364.0" cy="703.8" r="3.4" fill="#fff"/><circle cx="1364.0" cy="703.8" r="2.3" fill="#12bfdf"/><circle cx="1368.2" cy="724.7" r="3.4" fill="#fff"/><circle cx="1368.2" cy="724.7" r="2.3" fill="#12bfdf"/><circle cx="1372.4" cy="724.7" r="3.4" fill="#fff"/><circle cx="1372.4" cy="724.7" r="2.3" fill="#12bfdf"/><circle cx="1376.5" cy="703.8" r="3.4" fill="#fff"/><circle cx="1376.5" cy="703.8" r="2.3" fill="#12bfdf"/><circle cx="1380.7" cy="703.8" r="3.4" fill="#fff"/><circle cx="1380.7" cy="703.8" r="2.3" fill="#12bfdf"/><circle cx="1384.8" cy="703.8" r="3.4" fill="#fff"/><circle cx="1384.8" cy="703.8" r="2.3" fill="#12bfdf"/><circle cx="1389.0" cy="703.8" r="3.4" fill="#fff"/><circle cx="1389.0" cy="703.8" r="2.3" fill="#12bfdf"/><circle cx="1393.1" cy="724.7" r="3.4" fill="#fff"/><circle cx="1393.1" cy="724.7" r="2.3" fill="#12bfdf"/><circle cx="1397.3" cy="724.7" r="3.4" fill="#fff"/><circle cx="1397.3" cy="724.7" r="2.3" fill="#12bfdf"/><circle cx="1401.5" cy="682.9" r="3.4" fill="#fff"/><circle cx="1401.5" cy="682.9" r="2.3" fill="#12bfdf"/><circle cx="1405.6" cy="703.8" r="3.4" fill="#fff"/><circle cx="1405.6" cy="703.8" r="2.3" fill="#12bfdf"/><circle cx="1409.8" cy="703.8" r="3.4" fill="#fff"/><circle cx="1409.8" cy="703.8" r="2.3" fill="#12bfdf"/><circle cx="1413.9" cy="662.0" r="3.4" fill="#fff"/><circle cx="1413.9" cy="662.0" r="2.3" fill="#12bfdf"/><circle cx="1418.1" cy="703.8" r="3.4" fill="#fff"/><circle cx="1418.1" cy="703.8" r="2.3" fill="#12bfdf"/><circle cx="1422.2" cy="703.8" r="3.4" fill="#fff"/><circle cx="1422.2" cy="703.8" r="2.3" fill="#12bfdf"/><circle cx="1426.4" cy="682.9" r="3.4" fill="#fff"/><circle cx="1426.4" cy="682.9" r="2.3" fill="#12bfdf"/><circle cx="1430.6" cy="703.8" r="3.4" fill="#fff"/><circle cx="1430.6" cy="703.8" r="2.3" fill="#12bfdf"/><circle cx="1434.7" cy="662.0" r="3.4" fill="#fff"/><circle cx="1434.7" cy="662.0" r="2.3" fill="#12bfdf"/><circle cx="1438.9" cy="724.7" r="3.4" fill="#fff"/><circle cx="1438.9" cy="724.7" r="2.3" fill="#12bfdf"/><circle cx="1443.0" cy="724.7" r="3.4" fill="#fff"/><circle cx="1443.0" cy="724.7" r="2.3" fill="#12bfdf"/><circle cx="1447.2" cy="703.8" r="3.4" fill="#fff"/><circle cx="1447.2" cy="703.8" r="2.3" fill="#12bfdf"/><circle cx="1451.4" cy="703.8" r="3.4" fill="#fff"/><circle cx="1451.4" cy="703.8" r="2.3" fill="#12bfdf"/><circle cx="1455.5" cy="703.8" r="3.4" fill="#fff"/><circle cx="1455.5" cy="703.8" r="2.3" fill="#12bfdf"/><circle cx="1459.7" cy="703.8" r="3.4" fill="#fff"/><circle cx="1459.7" cy="703.8" r="2.3" fill="#12bfdf"/><circle cx="1463.8" cy="703.8" r="3.4" fill="#fff"/><circle cx="1463.8" cy="703.8" r="2.3" fill="#12bfdf"/><circle cx="1468.0" cy="703.8" r="3.4" fill="#fff"/><circle cx="1468.0" cy="703.8" r="2.3" fill="#12bfdf"/><circle cx="1472.1" cy="682.9" r="3.4" fill="#fff"/><circle cx="1472.1" cy="682.9" r="2.3" fill="#12bfdf"/><circle cx="1476.3" cy="703.8" r="3.4" fill="#fff"/><circle cx="1476.3" cy="703.8" r="2.3" fill="#12bfdf"/><circle cx="1480.5" cy="703.8" r="3.4" fill="#fff"/><circle cx="1480.5" cy="703.8" r="2.3" fill="#12bfdf"/><circle cx="1484.6" cy="703.8" r="3.4" fill="#fff"/><circle cx="1484.6" cy="703.8" r="2.3" fill="#12bfdf"/><circle cx="1488.8" cy="724.7" r="3.4" fill="#fff"/><circle cx="1488.8" cy="724.7" r="2.3" fill="#12bfdf"/><circle cx="1492.9" cy="662.0" r="3.4" fill="#fff"/><circle cx="1492.9" cy="662.0" r="2.3" fill="#12bfdf"/><circle cx="1497.1" cy="662.0" r="3.4" fill="#fff"/><circle cx="1497.1" cy="662.0" r="2.3" fill="#12bfdf"/><circle cx="1501.2" cy="724.7" r="3.4" fill="#fff"/><circle cx="1501.2" cy="724.7" r="2.3" fill="#12bfdf"/><circle cx="1505.4" cy="703.8" r="3.4" fill="#fff"/><circle cx="1505.4" cy="703.8" r="2.3" fill="#12bfdf"/><circle cx="1509.6" cy="662.0" r="3.4" fill="#fff"/><circle cx="1509.6" cy="662.0" r="2.3" fill="#12bfdf"/><circle cx="1513.7" cy="682.9" r="3.4" fill="#fff"/><circle cx="1513.7" cy="682.9" r="2.3" fill="#12bfdf"/><circle cx="1517.9" cy="682.9" r="3.4" fill="#fff"/><circle cx="1517.9" cy="682.9" r="2.3" fill="#12bfdf"/><circle cx="1522.0" cy="703.8" r="3.4" fill="#fff"/><circle cx="1522.0" cy="703.8" r="2.3" fill="#12bfdf"/><circle cx="1526.2" cy="703.8" r="3.4" fill="#fff"/><circle cx="1526.2" cy="703.8" r="2.3" fill="#12bfdf"/><circle cx="1530.4" cy="682.9" r="3.4" fill="#fff"/><circle cx="1530.4" cy="682.9" r="2.3" fill="#12bfdf"/><circle cx="1534.5" cy="682.9" r="3.4" fill="#fff"/><circle cx="1534.5" cy="682.9" r="2.3" fill="#12bfdf"/><circle cx="1538.7" cy="703.8" r="3.4" fill="#fff"/><circle cx="1538.7" cy="703.8" r="2.3" fill="#12bfdf"/><circle cx="1542.8" cy="724.7" r="3.4" fill="#fff"/><circle cx="1542.8" cy="724.7" r="2.3" fill="#12bfdf"/><circle cx="1547.0" cy="724.7" r="3.4" fill="#fff"/><circle cx="1547.0" cy="724.7" r="2.3" fill="#12bfdf"/><circle cx="1551.1" cy="703.8" r="3.4" fill="#fff"/><circle cx="1551.1" cy="703.8" r="2.3" fill="#12bfdf"/><circle cx="1555.3" cy="703.8" r="3.4" fill="#fff"/><circle cx="1555.3" cy="703.8" r="2.3" fill="#12bfdf"/><circle cx="1559.5" cy="703.8" r="3.4" fill="#fff"/><circle cx="1559.5" cy="703.8" r="2.3" fill="#12bfdf"/><circle cx="1563.6" cy="703.8" r="3.4" fill="#fff"/><circle cx="1563.6" cy="703.8" r="2.3" fill="#12bfdf"/><circle cx="1567.8" cy="724.7" r="3.4" fill="#fff"/><circle cx="1567.8" cy="724.7" r="2.3" fill="#12bfdf"/><circle cx="1571.9" cy="682.9" r="3.4" fill="#fff"/><circle cx="1571.9" cy="682.9" r="2.3" fill="#12bfdf"/><circle cx="1576.1" cy="703.8" r="3.4" fill="#fff"/><circle cx="1576.1" cy="703.8" r="2.3" fill="#12bfdf"/><circle cx="1580.2" cy="724.7" r="3.4" fill="#fff"/><circle cx="1580.2" cy="724.7" r="2.3" fill="#12bfdf"/><circle cx="1584.4" cy="703.8" r="3.4" fill="#fff"/><circle cx="1584.4" cy="703.8" r="2.3" fill="#12bfdf"/><circle cx="1588.6" cy="620.3" r="3.4" fill="#fff"/><circle cx="1588.6" cy="620.3" r="2.3" fill="#12bfdf"/><circle cx="1592.7" cy="682.9" r="3.4" fill="#fff"/><circle cx="1592.7" cy="682.9" r="2.3" fill="#12bfdf"/><circle cx="1596.9" cy="703.8" r="3.4" fill="#fff"/><circle cx="1596.9" cy="703.8" r="2.3" fill="#12bfdf"/><circle cx="1601.0" cy="662.0" r="3.4" fill="#fff"/><circle cx="1601.0" cy="662.0" r="2.3" fill="#12bfdf"/><circle cx="1605.2" cy="724.7" r="3.4" fill="#fff"/><circle cx="1605.2" cy="724.7" r="2.3" fill="#12bfdf"/><circle cx="1609.4" cy="682.9" r="3.4" fill="#fff"/><circle cx="1609.4" cy="682.9" r="2.3" fill="#12bfdf"/><circle cx="1613.5" cy="703.8" r="3.4" fill="#fff"/><circle cx="1613.5" cy="703.8" r="2.3" fill="#12bfdf"/><circle cx="1617.7" cy="703.8" r="3.4" fill="#fff"/><circle cx="1617.7" cy="703.8" r="2.3" fill="#12bfdf"/><circle cx="1621.8" cy="703.8" r="3.4" fill="#fff"/><circle cx="1621.8" cy="703.8" r="2.3" fill="#12bfdf"/><circle cx="1626.0" cy="662.0" r="3.4" fill="#fff"/><circle cx="1626.0" cy="662.0" r="2.3" fill="#12bfdf"/><circle cx="1630.1" cy="662.0" r="3.4" fill="#fff"/><circle cx="1630.1" cy="662.0" r="2.3" fill="#12bfdf"/><circle cx="1634.3" cy="682.9" r="3.4" fill="#fff"/><circle cx="1634.3" cy="682.9" r="2.3" fill="#12bfdf"/><circle cx="1638.5" cy="724.7" r="3.4" fill="#fff"/><circle cx="1638.5" cy="724.7" r="2.3" fill="#12bfdf"/><circle cx="1642.6" cy="641.2" r="3.4" fill="#fff"/><circle cx="1642.6" cy="641.2" r="2.3" fill="#12bfdf"/><circle cx="1646.8" cy="724.7" r="3.4" fill="#fff"/><circle cx="1646.8" cy="724.7" r="2.3" fill="#12bfdf"/><circle cx="1650.9" cy="703.8" r="3.4" fill="#fff"/><circle cx="1650.9" cy="703.8" r="2.3" fill="#12bfdf"/><circle cx="1655.1" cy="578.6" r="3.4" fill="#fff"/><circle cx="1655.1" cy="578.6" r="2.3" fill="#12bfdf"/><circle cx="1659.3" cy="682.9" r="3.4" fill="#fff"/><circle cx="1659.3" cy="682.9" r="2.3" fill="#12bfdf"/><circle cx="1663.4" cy="641.2" r="3.4" fill="#fff"/><circle cx="1663.4" cy="641.2" r="2.3" fill="#12bfdf"/><circle cx="1667.6" cy="703.8" r="3.4" fill="#fff"/><circle cx="1667.6" cy="703.8" r="2.3" fill="#12bfdf"/><circle cx="1671.7" cy="703.8" r="3.4" fill="#fff"/><circle cx="1671.7" cy="703.8" r="2.3" fill="#12bfdf"/><circle cx="1675.9" cy="703.8" r="3.4" fill="#fff"/><circle cx="1675.9" cy="703.8" r="2.3" fill="#12bfdf"/><circle cx="1680.0" cy="703.8" r="3.4" fill="#fff"/><circle cx="1680.0" cy="703.8" r="2.3" fill="#12bfdf"/><circle cx="1684.2" cy="703.8" r="3.4" fill="#fff"/><circle cx="1684.2" cy="703.8" r="2.3" fill="#12bfdf"/><circle cx="1688.4" cy="724.7" r="3.4" fill="#fff"/><circle cx="1688.4" cy="724.7" r="2.3" fill="#12bfdf"/><circle cx="1692.5" cy="703.8" r="3.4" fill="#fff"/><circle cx="1692.5" cy="703.8" r="2.3" fill="#12bfdf"/><circle cx="1696.7" cy="703.8" r="3.4" fill="#fff"/><circle cx="1696.7" cy="703.8" r="2.3" fill="#12bfdf"/><circle cx="1700.8" cy="703.8" r="3.4" fill="#fff"/><circle cx="1700.8" cy="703.8" r="2.3" fill="#12bfdf"/><circle cx="1705.0" cy="703.8" r="3.4" fill="#fff"/><circle cx="1705.0" cy="703.8" r="2.3" fill="#12bfdf"/><circle cx="1709.1" cy="682.9" r="3.4" fill="#fff"/><circle cx="1709.1" cy="682.9" r="2.3" fill="#12bfdf"/><circle cx="1713.3" cy="682.9" r="3.4" fill="#fff"/><circle cx="1713.3" cy="682.9" r="2.3" fill="#12bfdf"/><circle cx="1717.5" cy="682.9" r="3.4" fill="#fff"/><circle cx="1717.5" cy="682.9" r="2.3" fill="#12bfdf"/><circle cx="1721.6" cy="703.8" r="3.4" fill="#fff"/><circle cx="1721.6" cy="703.8" r="2.3" fill="#12bfdf"/><circle cx="1725.8" cy="641.2" r="3.4" fill="#fff"/><circle cx="1725.8" cy="641.2" r="2.3" fill="#12bfdf"/><circle cx="1729.9" cy="682.9" r="3.4" fill="#fff"/><circle cx="1729.9" cy="682.9" r="2.3" fill="#12bfdf"/><circle cx="1734.1" cy="682.9" r="3.4" fill="#fff"/><circle cx="1734.1" cy="682.9" r="2.3" fill="#12bfdf"/><circle cx="1738.3" cy="724.7" r="3.4" fill="#fff"/><circle cx="1738.3" cy="724.7" r="2.3" fill="#12bfdf"/><circle cx="1783.2" cy="584.1" r="7.4" fill="#12bfdf"/></svg>
<span class="t" style="top:761px;font-size:11px;line-height:12px;color:#555;right:668.00px;">0</span>
<span class="t" style="top:719px;font-size:11px;line-height:12px;color:#555;right:668.00px;">2</span>
<span class="t" style="top:677px;font-size:11px;line-height:12px;color:#555;right:668.00px;">4</span>
<span class="t" style="top:636px;font-size:11px;line-height:12px;color:#555;right:668.00px;">6</span>
<span class="t" style="top:594px;font-size:11px;line-height:12px;color:#555;right:668.00px;">8</span>
<span class="t" style="top:772px;font-size:11px;line-height:12px;color:#555;letter-spacing:-0.306px;left:1268.40px;transform:translateX(-50%);margin-left:-0.15px;">06:01</span>
<span class="t" style="top:772px;font-size:11px;line-height:12px;color:#555;letter-spacing:-0.306px;left:1305.75px;transform:translateX(-50%);margin-left:-0.15px;">06:46</span>
<span class="t" style="top:772px;font-size:11px;line-height:12px;color:#555;letter-spacing:-0.306px;left:1343.10px;transform:translateX(-50%);margin-left:-0.15px;">07:31</span>
<span class="t" style="top:772px;font-size:11px;line-height:12px;color:#555;letter-spacing:-0.306px;left:1380.45px;transform:translateX(-50%);margin-left:-0.15px;">08:16</span>
<span class="t" style="top:772px;font-size:11px;line-height:12px;color:#555;letter-spacing:-0.306px;left:1417.80px;transform:translateX(-50%);margin-left:-0.15px;">09:01</span>
<span class="t" style="top:772px;font-size:11px;line-height:12px;color:#555;letter-spacing:-0.306px;left:1455.15px;transform:translateX(-50%);margin-left:-0.15px;">09:46</span>
<span class="t" style="top:772px;font-size:11px;line-height:12px;color:#555;letter-spacing:-0.306px;left:1492.50px;transform:translateX(-50%);margin-left:-0.15px;">10:30</span>
<span class="t" style="top:772px;font-size:11px;line-height:12px;color:#555;letter-spacing:-0.144px;left:1529.85px;transform:translateX(-50%);margin-left:-0.07px;">11:15</span>
<span class="t" style="top:772px;font-size:11px;line-height:12px;color:#555;letter-spacing:-0.306px;left:1567.20px;transform:translateX(-50%);margin-left:-0.15px;">12:00</span>
<span class="t" style="top:772px;font-size:11px;line-height:12px;color:#555;letter-spacing:-0.306px;left:1604.55px;transform:translateX(-50%);margin-left:-0.15px;">12:45</span>
<span class="t" style="top:772px;font-size:11px;line-height:12px;color:#555;letter-spacing:-0.306px;left:1641.90px;transform:translateX(-50%);margin-left:-0.15px;">13:30</span>
<span class="t" style="top:772px;font-size:11px;line-height:12px;color:#555;letter-spacing:-0.306px;left:1679.25px;transform:translateX(-50%);margin-left:-0.15px;">14:15</span>
<span class="t" style="top:772px;font-size:11px;line-height:12px;color:#555;letter-spacing:-0.306px;left:1716.60px;transform:translateX(-50%);margin-left:-0.15px;">15:00</span>
<span class="t" style="top:796px;font-size:12px;line-height:14px;color:#555;letter-spacing:-0.059px;left:1503.70px;transform:translateX(-50%);margin-left:-0.03px;">Time</span>
<span class="t" style="top:576px;font-size:17px;line-height:19px;color:#666;letter-spacing:-0.703px;left:1797.20px;">FTP</span>
<span class="t" style="left:1226.2px;top:667.6px;font-size:11.6px;line-height:14px;color:#555;transform:translate(-50%,-50%) rotate(-90deg)">Response Time ms</span>
<div class="a" style="left:1353px;top:825.5px;width:376px;height:30px;background:#fff;border:1.5px solid #111;"></div>
<span class="t" style="top:834px;font-size:14.5px;line-height:16px;color:#333;letter-spacing:0.322px;left:1366.60px;">FTP : Min:2.0 Max:9.0 Avg:3.24 95th Percentile:6.17</span>
<div class="a" style="left:1846px;top:809px;width:47px;height:29px;background:#36ab72;"></div>
<div class="a" style="left:1846px;top:809px;width:47px;height:4px;background:#48bb81;"></div>
<svg style="left:1856px;top:816px" width="28" height="22" viewBox="0 0 28 22"><g fill="none" stroke="#e9f7ef" stroke-width="1.2" stroke-linejoin="round"><path d="M6 7.6 V4.6 Q6 2.4 8.2 2.4 H22.4 Q24.6 2.4 24.6 4.6 V12.6 Q24.6 14.8 22.4 14.8 H21.6"/><path d="M4.6 8 H19 Q21.2 8 21.2 10.2 V17.6 Q21.2 19.8 19 19.8 H11.5 L9 22.6 L7.6 19.8 H4.6 Q2.4 19.8 2.4 17.6 V10.2 Q2.4 8 4.6 8 Z"/></g><g stroke="#e9f7ef" stroke-width="1.1"><path d="M6.4 11.7 H12.4 M6.4 14.3 H17.2 M6.4 16.6 H17.2"/></g></svg>
</body></html>
